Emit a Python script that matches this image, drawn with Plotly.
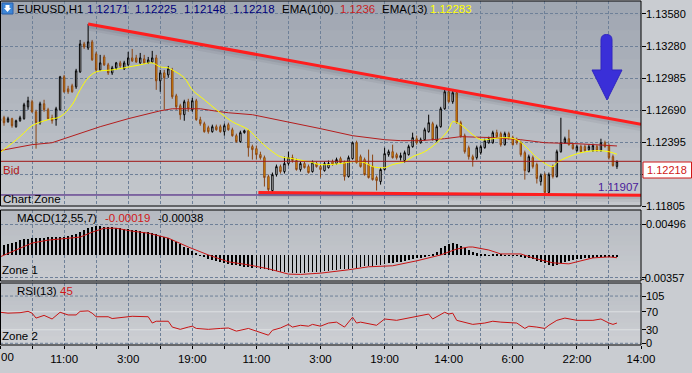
import plotly.graph_objects as go

# ---------------- data ----------------
bar_index = list(range(155))

open_ = [1.12593,1.12621,1.12584,1.12612,1.12538,1.12593,1.12612,1.12722,1.12769,1.12676,
         1.12575,1.12750,1.12695,1.12621,1.12603,1.12695,1.12999,1.12888,1.12916,1.12907,
         1.13045,1.13303,1.13266,1.13322,1.13211,1.13063,1.13183,1.13110,1.13036,1.13082,
         1.13128,1.13073,1.13110,1.13174,1.13174,1.13128,1.13165,1.13128,1.13137,1.13174,
         1.12962,1.13036,1.13017,1.13063,1.12824,1.12732,1.12649,1.12769,1.12695,1.12778,
         1.12603,1.12566,1.12529,1.12492,1.12538,1.12538,1.12492,1.12557,1.12510,1.12455,
         1.12400,1.12483,1.12501,1.12354,1.12335,1.12280,1.12252,1.12077,1.11948,1.12095,
         1.12169,1.12123,1.12197,1.12252,1.12225,1.12142,1.12197,1.12169,1.12123,1.12197,
         1.12169,1.12132,1.12160,1.12215,1.12197,1.12243,1.12206,1.12077,1.12243,1.12390,
         1.12261,1.12234,1.12188,1.12169,1.12068,1.12031,1.12142,1.12280,1.12307,1.12280,
         1.12252,1.12225,1.12280,1.12354,1.12427,1.12390,1.12418,1.12492,1.12566,1.12409,
         1.12538,1.12704,1.12861,1.12769,1.12852,1.12575,1.12455,1.12344,1.12261,1.12252,
         1.12298,1.12344,1.12390,1.12390,1.12483,1.12474,1.12372,1.12474,1.12437,1.12418,
         1.12390,1.12298,1.12123,1.12252,1.12188,1.12031,1.12095,1.11930,1.12169,1.12077,
         1.12307,1.12390,1.12427,1.12372,1.12317,1.12354,1.12354,1.12326,1.12317,1.12354,
         1.12317,1.12390,1.12363,1.12261,1.12171]
high = [1.12639,1.12639,1.12630,1.12621,1.12603,1.12639,1.12759,1.12815,1.12787,1.12695,
        1.12769,1.12787,1.12713,1.12649,1.12722,1.13008,1.13017,1.12916,1.12935,1.13073,
        1.13340,1.13322,1.13488,1.13340,1.13230,1.13202,1.13202,1.13128,1.13100,1.13137,
        1.13147,1.13147,1.13230,1.13257,1.13202,1.13220,1.13202,1.13183,1.13239,1.13202,
        1.13063,1.13063,1.13100,1.13082,1.12842,1.12750,1.12787,1.12796,1.12805,1.12796,
        1.12630,1.12584,1.12547,1.12557,1.12557,1.12557,1.12566,1.12575,1.12529,1.12474,
        1.12501,1.12510,1.12510,1.12372,1.12363,1.12307,1.12271,1.12095,1.12114,1.12188,
        1.12188,1.12261,1.12307,1.12280,1.12243,1.12215,1.12215,1.12188,1.12225,1.12215,
        1.12188,1.12215,1.12225,1.12234,1.12252,1.12261,1.12225,1.12271,1.12400,1.12409,
        1.12280,1.12252,1.12326,1.12280,1.12086,1.12160,1.12344,1.12326,1.12372,1.12298,
        1.12298,1.12317,1.12372,1.12483,1.12455,1.12437,1.12529,1.12649,1.12584,1.12557,
        1.12722,1.12879,1.12888,1.12879,1.12870,1.12593,1.12474,1.12363,1.12280,1.12363,
        1.12372,1.12427,1.12446,1.12501,1.12510,1.12492,1.12492,1.12492,1.12455,1.12437,
        1.12409,1.12317,1.12280,1.12271,1.12206,1.12105,1.12114,1.12114,1.12188,1.12326,
        1.12621,1.12446,1.12510,1.12390,1.12372,1.12372,1.12372,1.12372,1.12381,1.12372,
        1.12427,1.12409,1.12381,1.12280,1.12225]
low = [1.12566,1.12547,1.12575,1.12529,1.12529,1.12584,1.12603,1.12695,1.12667,1.12335,
       1.12557,1.12676,1.12603,1.12566,1.12547,1.12685,1.12852,1.12842,1.12852,1.12888,
       1.13036,1.13257,1.13248,1.13147,1.13045,1.13054,1.13100,1.13017,1.13017,1.13063,
       1.13082,1.13063,1.13100,1.13137,1.13128,1.13119,1.13119,1.13119,1.13128,1.12879,
       1.12861,1.12695,1.12990,1.12796,1.12695,1.12603,1.12593,1.12676,1.12676,1.12593,
       1.12547,1.12483,1.12474,1.12483,1.12501,1.12483,1.12455,1.12501,1.12446,1.12390,
       1.12390,1.12474,1.12261,1.12234,1.12234,1.12234,1.11985,1.11930,1.11930,1.12077,
       1.12105,1.12105,1.12178,1.12206,1.12132,1.12123,1.12151,1.12105,1.12114,1.12160,
       1.12068,1.12123,1.12151,1.12178,1.12188,1.12197,1.12040,1.12068,1.12234,1.12197,
       1.12160,1.12086,1.12059,1.12040,1.11948,1.12003,1.12132,1.12261,1.12243,1.12234,
       1.12225,1.12206,1.12271,1.12344,1.12372,1.12381,1.12409,1.12483,1.12409,1.12400,
       1.12529,1.12695,1.12759,1.12750,1.12566,1.12437,1.12289,1.12234,1.12169,1.12234,
       1.12280,1.12335,1.12381,1.12381,1.12427,1.12354,1.12363,1.12418,1.12363,1.12372,
       1.12261,1.12049,1.12114,1.12151,1.12013,1.11994,1.11911,1.11911,1.12059,1.12068,
       1.12298,1.12381,1.12363,1.12326,1.12307,1.12298,1.12307,1.12317,1.12307,1.12307,
       1.12307,1.12344,1.12234,1.12169,1.12148]
close = [1.12612,1.12575,1.12612,1.12547,1.12593,1.12621,1.12741,1.12778,1.12676,1.12575,
         1.12750,1.12695,1.12612,1.12593,1.12704,1.12999,1.12861,1.12861,1.12861,1.13054,
         1.13303,1.13276,1.13322,1.13156,1.13063,1.13128,1.13110,1.13036,1.13082,1.13128,
         1.13100,1.13128,1.13174,1.13147,1.13137,1.13174,1.13128,1.13156,1.13174,1.12962,
         1.13036,1.12990,1.13073,1.12815,1.12722,1.12649,1.12769,1.12704,1.12778,1.12603,
         1.12566,1.12492,1.12492,1.12538,1.12510,1.12492,1.12547,1.12510,1.12455,1.12400,
         1.12483,1.12501,1.12344,1.12326,1.12280,1.12252,1.12068,1.11957,1.12095,1.12169,
         1.12123,1.12197,1.12252,1.12225,1.12142,1.12197,1.12160,1.12114,1.12206,1.12169,
         1.12142,1.12197,1.12197,1.12188,1.12234,1.12206,1.12077,1.12252,1.12390,1.12206,
         1.12169,1.12095,1.12068,1.12049,1.12040,1.12142,1.12289,1.12307,1.12252,1.12252,
         1.12271,1.12298,1.12354,1.12437,1.12390,1.12418,1.12510,1.12575,1.12418,1.12538,
         1.12704,1.12861,1.12769,1.12852,1.12575,1.12446,1.12307,1.12261,1.12234,1.12344,
         1.12354,1.12409,1.12427,1.12483,1.12446,1.12372,1.12474,1.12437,1.12372,1.12390,
         1.12280,1.12132,1.12261,1.12169,1.12059,1.12086,1.11930,1.12095,1.12077,1.12307,
         1.12390,1.12427,1.12372,1.12335,1.12354,1.12307,1.12317,1.12354,1.12363,1.12317,
         1.12390,1.12354,1.12252,1.12178,1.12218]

ema13_x = [0,5,8,12,15,18,20,22,24,28,31,35,38,40,42,43,46,48,51,54,58,62,65,68,70,73,77,80,
           85,88,91,93,96,98,101,103,106,109,112,113,115,118,120,123,126,129,132,134,138,139,
           142,145,149,152,154]
ema13 = [1.12298,1.12446,1.12547,1.12603,1.12630,1.12741,1.12879,1.12990,1.13045,1.13063,
         1.13082,1.13110,1.13128,1.13091,1.13082,1.13063,1.12990,1.12879,1.12787,1.12695,
         1.12584,1.12510,1.12400,1.12307,1.12261,1.12243,1.12215,1.12188,1.12197,1.12215,
         1.12206,1.12169,1.12160,1.12188,1.12215,1.12261,1.12307,1.12390,1.12510,1.12584,
         1.12557,1.12464,1.12418,1.12427,1.12437,1.12418,1.12326,1.12252,1.12169,1.12206,
         1.12261,1.12298,1.12317,1.12307,1.12283]

ema100_x = [0,8,13,19,25,32,36,40,43,50,55,57,63,72,80,88,96,100,105,111,115,123,130,136,144,154]
ema100 = [1.12317,1.12372,1.12390,1.12464,1.12538,1.12612,1.12649,1.12685,1.12704,1.12704,
          1.12676,1.12667,1.12649,1.12584,1.12520,1.12455,1.12418,1.12409,1.12409,1.12427,
          1.12446,1.12437,1.12418,1.12390,1.12381,1.12360]

macd_hist = [0.00150,0.00165,0.00180,0.00195,0.00215,0.00240,0.00255,0.00265,0.00272,0.00275,
             0.00280,0.00283,0.00287,0.00290,0.00292,0.00296,0.00300,0.00310,0.00325,0.00345,
             0.00375,0.00405,0.00430,0.00450,0.00462,0.00465,0.00460,0.00452,0.00445,0.00440,
             0.00435,0.00428,0.00420,0.00410,0.00400,0.00390,0.00380,0.00365,0.00352,0.00335,
             0.00315,0.00295,0.00272,0.00245,0.00210,0.00175,0.00140,0.00110,0.00070,0.00035,
             0.00005,-0.00025,-0.00055,-0.00075,-0.00095,-0.00110,-0.00125,-0.00135,-0.00150,-0.00162,
             -0.00172,-0.00180,-0.00190,-0.00198,-0.00205,-0.00215,-0.00225,-0.00240,-0.00250,-0.00258,
             -0.00265,-0.00270,-0.00272,-0.00275,-0.00276,-0.00278,-0.00276,-0.00272,-0.00268,-0.00265,
             -0.00262,-0.00255,-0.00248,-0.00240,-0.00232,-0.00225,-0.00218,-0.00212,-0.00205,-0.00195,
             -0.00185,-0.00178,-0.00172,-0.00165,-0.00160,-0.00150,-0.00140,-0.00130,-0.00120,-0.00112,
             -0.00104,-0.00095,-0.00080,-0.00062,-0.00050,-0.00038,-0.00025,-0.00005,0.00025,0.00060,
             0.00110,0.00155,0.00185,0.00195,0.00180,0.00150,0.00120,0.00085,0.00055,0.00030,
             0.00015,0.00008,0.00005,0.00010,0.00012,0.00008,0.00005,0.00003,-0.00005,-0.00010,
             -0.00020,-0.00035,-0.00050,-0.00065,-0.00085,-0.00105,-0.00130,-0.00150,-0.00165,-0.00150,
             -0.00125,-0.00100,-0.00085,-0.00075,-0.00065,-0.00055,-0.00048,-0.00042,-0.00038,-0.00032,
             -0.00028,-0.00025,-0.00022,-0.00020,-0.00019]

signal_x = [0,5,8,12,17,20,23,26,29,33,37,42,47,52,57,62,67,72,75,80,87,92,98,104,110,114,117,
            118,122,125,130,133,138,142,145,148,152,154]
signal = [-0.00025,0.00117,0.00196,0.00243,0.00275,0.00291,0.00370,0.00433,0.00433,0.00386,
          0.00354,0.00275,0.00133,0.00006,-0.00104,-0.00152,-0.00215,-0.00300,-0.00305,-0.00285,
          -0.00231,-0.00183,-0.00167,-0.00088,0.00006,0.00101,0.00133,0.00133,0.00085,0.00022,
          0.00022,-0.00041,-0.00120,-0.00136,-0.00088,-0.00041,-0.00025,-0.00038]

rsi_x = [0,2,5,7,8,9,11,13,15,17,19,20,22,23,24,27,28,32,33,37,38,39,42,43,45,47,48,49,52,55,
         57,59,62,64,67,68,70,72,73,75,77,78,80,82,84,86,88,89,90,94,96,99,103,107,108,111,112,
         113,114,118,121,123,125,129,131,132,134,136,137,139,141,144,148,150,152,153,154]
rsi = [69,67,68,71,67,56,62,54,69,63,63,71,72,67,59,59,55,58,60,59,45,49,49,36,31,36,38,33,31,33,
       34,27,33,27,18,29,34,42,36,40,38,42,38,45,47,36,58,45,47,40,54,51,58,65,54,69,65,67,51,42,
       45,49,47,45,33,38,36,33,40,51,56,51,51,54,45,42,45]

time_ticks = [0, 16, 32, 48, 64, 80, 96, 112, 128, 144, 160]
time_labels = ["00", "11:00", "3:00", "19:00", "11:00", "3:00", "19:00", "14:00", "6:00", "22:00", "14:00"]
grid_ticks = list(range(0, 161, 8))

price_ticks = [1.13580, 1.13280, 1.12985, 1.12690, 1.12395, 1.12100, 1.11805]
price_labels = ["1.13580", "1.13280", "1.12985", "1.12690", "1.12395", "", "1.11805"]
macd_ticks = [0.00496, -0.00357]
macd_labels = ["0.00496", "-0.00357"]
rsi_ticks = [105, 70, 30, 0]

resist_x = [22, 160]
resist_y = [1.13488, 1.12561]
support_x = [64.5, 160]
support_y = [1.11930, 1.11905]
chart_zone = 1.11907
macd_vals = ["-0.00019", "-0.00038"]
rsi_last = "45"

# ---------------- layout geometry ----------------
W, H = 692, 373
ML, MR, MT, MB = 0, 51, 1, 28
PW = W - ML - MR
PH = H - MT - MB
FONT = "Liberation Sans, Arial, sans-serif"

def px(x):
    return (x - ML) / PW

def py(y):
    return (H - MB - y) / PH

main_dom = [py(206), 1.0]
macd_dom = [py(281), py(210)]
rsi_dom = [0.0, py(283)]

GRID = "#6e8098"
DASH = "3px,2px"

fig = go.Figure()

# candles
fig.add_trace(go.Candlestick(
    x=bar_index, open=open_, high=high, low=low, close=close,
    increasing=dict(line=dict(color="#000000", width=1), fillcolor="#ffffff"),
    decreasing=dict(line=dict(color="#8b4513", width=1), fillcolor="#f5a800"),
    whiskerwidth=0, xaxis="x", yaxis="y", showlegend=False, hoverinfo="skip"))

fig.add_trace(go.Scatter(x=ema100_x, y=ema100, mode="lines", line=dict(color="#b41e1e", width=1),
                         xaxis="x", yaxis="y", showlegend=False, hoverinfo="skip"))
fig.add_trace(go.Scatter(x=ema13_x, y=ema13, mode="lines", line=dict(color="#ffff00", width=1, shape="spline"),
                         xaxis="x", yaxis="y", showlegend=False, hoverinfo="skip"))

# trend lines with soft shadow
for off, wdt, alpha in ((0.00030, 7, 0.07), (0.00020, 4, 0.10)):
    for lx, ly in ((resist_x, resist_y), (support_x, support_y)):
        fig.add_trace(go.Scatter(x=lx, y=[v - off for v in ly], mode="lines",
                                 line=dict(color="rgba(60,62,75,%.2f)" % alpha, width=wdt),
                                 xaxis="x", yaxis="y", showlegend=False, hoverinfo="skip"))
for lx, ly in ((resist_x, resist_y), (support_x, support_y)):
    fig.add_trace(go.Scatter(x=lx, y=ly, mode="lines", line=dict(color="#ff1e1e", width=3),
                             xaxis="x", yaxis="y", showlegend=False, hoverinfo="skip"))

# MACD
fig.add_trace(go.Bar(x=bar_index, y=macd_hist, width=0.2, marker=dict(color="#000000", line=dict(width=0)),
                     xaxis="x", yaxis="y2", showlegend=False, hoverinfo="skip"))
fig.add_trace(go.Scatter(x=signal_x, y=signal, mode="lines", line=dict(color="#c81414", width=1),
                         xaxis="x", yaxis="y2", showlegend=False, hoverinfo="skip"))

# RSI
fig.add_trace(go.Scatter(x=rsi_x, y=rsi, mode="lines", line=dict(color="#c81414", width=1),
                         xaxis="x", yaxis="y3", showlegend=False, hoverinfo="skip"))

shapes = []

def band_fill(top, bottom, c0, c1, n=14):
    for k in range(n):
        t = k / (n - 1)
        c = tuple(round(c0[j] + (c1[j] - c0[j]) * t) for j in range(3))
        y0 = top + (bottom - top) * k / n
        y1 = top + (bottom - top) * (k + 1) / n
        shapes.append(dict(type="rect", xref="paper", yref="paper", x0=px(0), x1=px(641),
                           y0=py(y1) - 0.002, y1=py(y0), fillcolor="rgb(%d,%d,%d)" % c,
                           line=dict(width=0), layer="below"))

band_fill(1, 206, (160, 167, 178), (196, 199, 204))
band_fill(210, 281, (182, 186, 193), (200, 203, 207))
band_fill(283, 345, (186, 190, 196), (205, 207, 211))

# RSI grid / levels
for lv, style in ((105, "dash"), (0, "dash"), (70, "solid"), (30, "solid")):
    if style == "dash":
        shapes.append(dict(type="line", xref="paper", yref="y3", x0=0, x1=1, y0=lv, y1=lv,
                           line=dict(color=GRID, width=1, dash=DASH), layer="below"))
    else:
        shapes.append(dict(type="line", xref="paper", yref="y3", x0=0, x1=1, y0=lv, y1=lv,
                           line=dict(color="rgba(225,227,230,0.9)", width=1), layer="below"))

# bid / chart zone lines
shapes.append(dict(type="line", xref="paper", yref="y", x0=0, x1=1, y0=close[-1], y1=close[-1],
                   line=dict(color="#a01818", width=1)))
shapes.append(dict(type="line", xref="paper", yref="y", x0=0, x1=1, y0=chart_zone, y1=chart_zone,
                   line=dict(color="#3c0a78", width=1), layer="below"))

# panel borders
for dom in (main_dom, macd_dom, rsi_dom):
    shapes.append(dict(type="rect", xref="paper", yref="paper", x0=px(0.5), x1=px(641),
                       y0=dom[0], y1=dom[1], line=dict(color="#000000", width=1),
                       fillcolor="rgba(0,0,0,0)"))

# blue arrow
def P(x, y):
    return "%.5f,%.5f" % (px(x), py(y))

arrow = ("M " + P(601, 70) + " L " + P(601, 40) + " Q " + P(601, 34.5) + " " + P(606.5, 34.5) +
         " Q " + P(612, 34.5) + " " + P(612, 40) + " L " + P(612, 70) + " L " + P(622, 70) +
         " L " + P(607, 100) + " L " + P(592, 70) + " Z")
shapes.append(dict(type="path", xref="paper", yref="paper", path=arrow,
                   fillcolor="#3a2fd8", line=dict(color="#3026c0", width=1)))

# header icon
shapes.append(dict(type="rect", xref="paper", yref="paper", x0=px(2), x1=px(13), y0=py(14), y1=py(3),
                   fillcolor="#3c86d8", line=dict(color="#2a5ea8", width=1)))
icon = ("M " + P(5.5, 5) + " L " + P(9.5, 5) + " L " + P(9.5, 8) + " L " + P(11, 8) + " L " + P(7.5, 12) +
        " L " + P(4, 8) + " L " + P(5.5, 8) + " Z")
shapes.append(dict(type="path", xref="paper", yref="paper", path=icon, fillcolor="#ffffff",
                   line=dict(width=0)))

# current price box
shapes.append(dict(type="rect", xref="paper", yref="paper", x0=px(643), x1=px(691.5), y0=py(178), y1=py(162),
                   fillcolor="#ffffff", line=dict(color="#d01818", width=1)))

annotations = []

def ann(text, x, y, color="#000000", size=11.5, xanchor="left", xref="paper", yref="paper", yval=None):
    annotations.append(dict(text=text, x=px(x), y=(py(y) if yval is None else yval), xref=xref, yref=yref,
                            showarrow=False, xanchor=xanchor, yanchor="middle",
                            font=dict(family=FONT, size=size, color=color), borderpad=0))

NAVY = "#00007a"
ann("EURUSD,H1", 16, 9)
ann("%.5f" % open_[-1], 86, 9, NAVY)
ann("%.5f" % high[-1], 134, 9, NAVY)
ann("%.5f" % low[-1], 183, 9, NAVY)
ann("%.5f" % close[-1], 232, 9, NAVY)
ann("EMA(100)", 281, 9)
ann("%.4f" % ema100[-1], 339, 9, "#c81e1e")
ann("EMA(13)", 381, 9)
ann("%.5f" % ema13[-1], 429, 9, "#ffff00")
ann("Bid", 2, 170, "#b41818")
ann("Chart Zone", 2, 199)
ann("%.5f" % chart_zone, 640, 187, "#4a1a9a", xanchor="right")
ann("MACD(12,55,7)", 16, 218)
ann(macd_vals[0], 104, 218, "#d01818")
ann(macd_vals[1], 157, 218)
ann("Zone 1", 1, 270)
ann("RSI(13)", 16, 291)
ann(rsi_last, 59, 291, "#d01818")
ann("Zone 2", 1, 336)
ann("%.5f" % close[-1], 667, 170, "#d01818", size=11, xanchor="center")

# right-hand scale labels
for v, t in zip(price_ticks, price_labels):
    if t:
        ann(t, 645, 0, size=11, yref="y", yval=v)
for v, t in zip(macd_ticks, macd_labels):
    ann(t, 645 if not t.startswith("-") else 640, 0, size=11, yref="y2", yval=v)
for v in rsi_ticks:
    ann(str(v), 645, 0, size=11, yref="y3", yval=v)

# first time label sits on the left edge (only its tail is visible in the terminal)
ann(time_labels[0], 0, 357, size=11.5, xanchor="left")

tick_text = []
for g in grid_ticks:
    if g in time_ticks and g != time_ticks[0]:
        tick_text.append(time_labels[time_ticks.index(g)])
    else:
        tick_text.append("")

axis_font = dict(family=FONT, size=11.5, color="#000000")

common_y = dict(anchor="x", side="right", tickmode="array", ticks="outside", ticklen=4,
                tickcolor="#000000", showticklabels=False, zeroline=False, showline=False, fixedrange=True)

fig.update_layout(
    width=W, height=H,
    margin=dict(l=ML, r=MR, t=MT, b=MB, pad=0),
    paper_bgcolor="#c9ccd1", plot_bgcolor="rgba(0,0,0,0)",
    showlegend=False, hovermode=False, bargap=0, boxgap=0.5,
    shapes=shapes, annotations=annotations,
    xaxis=dict(domain=[0, 1], anchor="y3", range=[0, 160], tickmode="array", tickvals=grid_ticks,
               ticktext=tick_text, showgrid=True, gridcolor=GRID, griddash=DASH, gridwidth=1,
               ticks="outside", ticklen=3, tickcolor="#000000", tickfont=axis_font,
               showline=False, zeroline=False, rangeslider=dict(visible=False), fixedrange=True),
    yaxis=dict(domain=main_dom, range=[1.11805, 1.13700], tickvals=price_ticks,
               showgrid=True, gridcolor=GRID, griddash=DASH, **common_y),
    yaxis2=dict(domain=macd_dom, range=[-0.00410, 0.00724], tickvals=macd_ticks,
                showgrid=True, gridcolor=GRID, griddash=DASH, **common_y),
    yaxis3=dict(domain=rsi_dom, range=[-3.8, 134], tickvals=rsi_ticks, showgrid=False, **common_y),
)

fig.write_html("out.html", config={"displayModeBar": False},
               post_script="document.body.style.margin='0';")
